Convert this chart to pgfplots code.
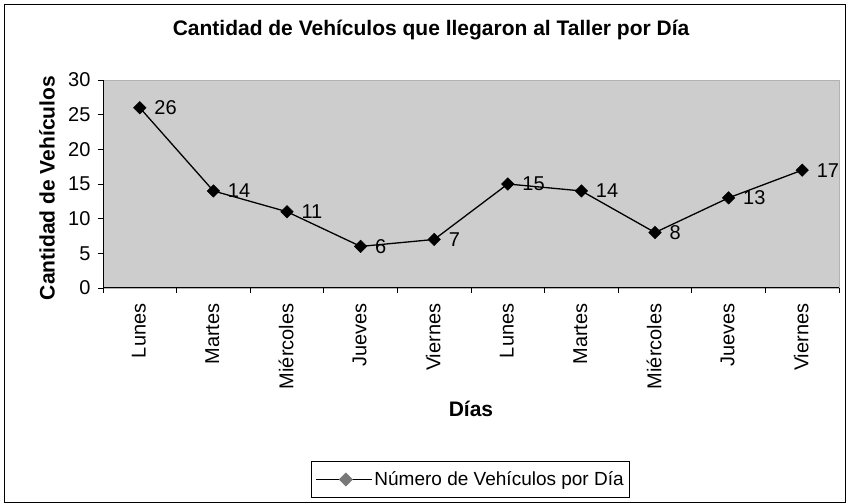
\documentclass[border=0pt]{standalone}
\usepackage{pgfplots}
\pgfplotsset{compat=1.18}
\usepackage{fontspec}
\setmainfont{Liberation Sans}
\definecolor{plotbg}{RGB}{205,205,205}
\definecolor{markgray}{RGB}{120,120,120}
\begin{document}
\begin{tikzpicture}[x=1pt,y=1pt]
\path[use as bounding box] (0,0) rectangle (847,503);
\draw[line width=1pt] (4,0.5) rectangle (845.5,498);
\begin{axis}[
  at={(103pt,215pt)}, anchor=south west,
  scale only axis, width=736pt, height=208pt,
  xmin=0.5, xmax=10.5, ymin=0, ymax=30,
  xtick={0.5,1.5,...,10.5},
  x tick label as interval,
  xticklabels={Lunes,Martes,Miércoles,Jueves,Viernes,Lunes,Martes,Miércoles,Jueves,Viernes},
  ytick={0,5,...,30},
  tick align=outside,
  major tick length=5pt,
  tick style={black, line width=0.8pt},
  axis x line*=bottom,
  axis y line*=left,
  axis line style={-, black, line width=1pt},
  axis background/.style={fill=plotbg, draw=gray!60},
  /pgf/number format/assume math mode=true,
  ticklabel style={font=\fontsize{20}{23}\selectfont},
  xticklabel style={rotate=90, anchor=east, xshift=-7pt, yshift=1pt},
  yticklabel style={xshift=-4pt},
  title={\bfseries Cantidad de Vehículos que llegaron al Taller por Día},
  title style={at={(axis description cs:0.4457,1.1827)}, anchor=base, font=\fontsize{21}{24}\selectfont},
  xlabel={\bfseries Días},
  xlabel style={at={(axis description cs:0.5,-0.62)}, anchor=base, font=\fontsize{21}{24}\selectfont},
  ylabel={\bfseries Cantidad de Vehículos},
  ylabel style={at={(axis description cs:-0.0761,0.4808)}, anchor=center, font=\fontsize{21}{24}\selectfont},
  legend style={at={(axis description cs:0.4993,-0.9207)}, anchor=center, draw=black, fill=white,
    font=\fontsize{19}{22}\selectfont, inner xsep=4pt, inner ysep=8pt, line width=0.8pt},
  legend image code/.code={
    \draw[black, line width=1.2pt] (0pt,0pt) -- (56pt,0pt);
    \fill[markgray] (30pt,6pt) -- (36pt,0pt) -- (30pt,-6pt) -- (24pt,0pt) -- cycle;
  },
  nodes near coords,
  every node near coord/.append style={anchor=west, xshift=11pt, font=\fontsize{20}{23}\selectfont, black},
  clip=false,
]
\addplot[black, line width=1.3pt, mark=square*, mark options={rotate=45, fill=black, line width=0.5pt}, mark size=4.4pt]
  coordinates {(1,26) (2,14) (3,11) (4,6) (5,7) (6,15) (7,14) (8,8) (9,13) (10,17)};
\addlegendentry{Número de Vehículos por Día}
\end{axis}
\end{tikzpicture}
\end{document}
